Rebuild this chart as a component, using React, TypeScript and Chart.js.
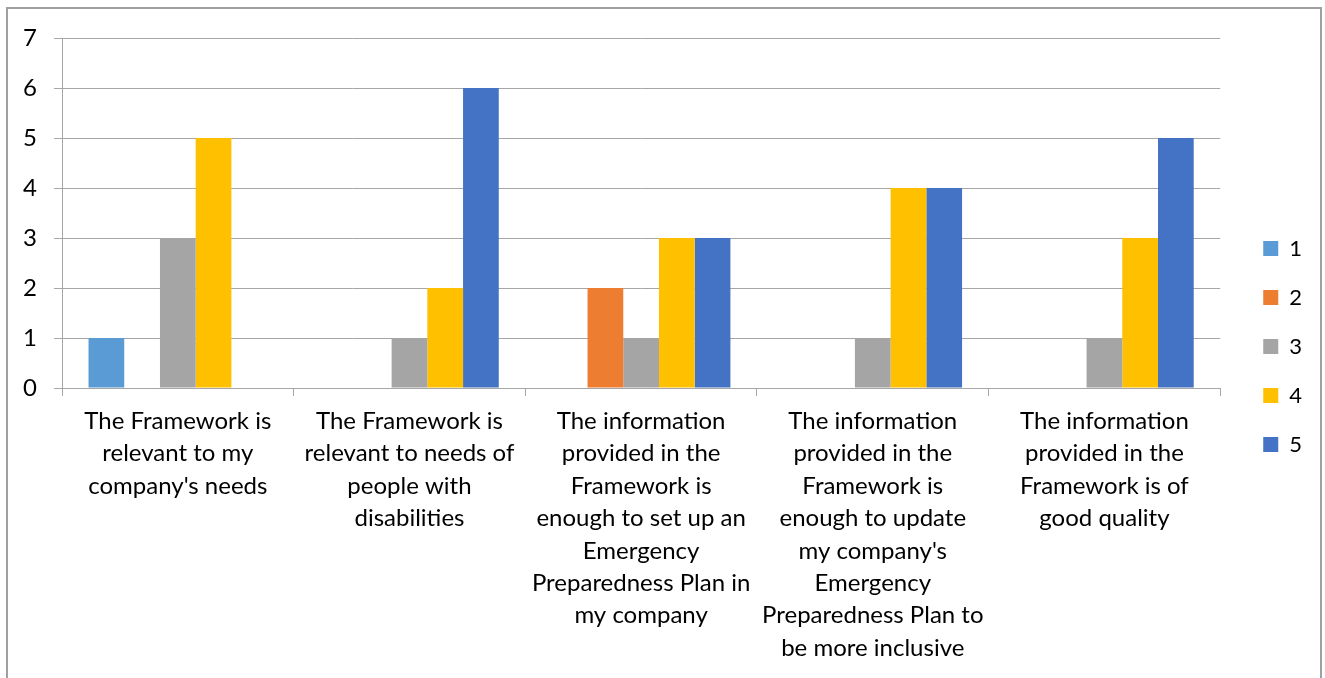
import React, { useEffect, useRef } from "react";
import { Chart, registerables } from "chart.js";

Chart.register(...registerables);

const categories: string[][] = [
  ["The Framework is", "relevant to my", "company's needs"],
  ["The Framework is", "relevant to needs of", "people with", "disabilities"],
  ["The information", "provided in the", "Framework is", "enough to set up an", "Emergency", "Preparedness Plan in", "my company"],
  ["The information", "provided in the", "Framework is", "enough to update", "my company's", "Emergency", "Preparedness Plan to", "be more inclusive"],
  ["The information", "provided in the", "Framework is of", "good quality"],
];

const seriesNames = ["1", "2", "3", "4", "5"];
const series1 = [1, 0, 0, 0, 0];
const series2 = [0, 0, 2, 0, 0];
const series3 = [3, 1, 1, 1, 1];
const series4 = [5, 2, 3, 4, 3];
const series5 = [0, 6, 3, 4, 5];
const seriesValues = [series1, series2, series3, series4, series5];
const seriesColors = ["#5B9BD5", "#ED7D31", "#A5A5A5", "#FFC000", "#4472C4"];

const yMin = 0;
const yMax = 7;
const yStep = 1;

const FONT = "Lato";
const GRID = "#a6a6a6";

export default function App() {
  const canvasRef = useRef<HTMLCanvasElement | null>(null);

  useEffect(() => {
    const canvas = canvasRef.current;
    if (!canvas) return;
    const chart = new Chart(canvas, {
      type: "bar",
      data: {
        labels: categories,
        datasets: seriesNames.map((name, i) => ({
          label: name,
          data: seriesValues[i],
          backgroundColor: seriesColors[i],
          borderWidth: 0,
          barPercentage: 1,
          categoryPercentage: 0.771,
        })),
      },
      options: {
        responsive: false,
        animation: false,
        layout: { padding: { top: 15, bottom: 0, left: 0, right: 13 } },
        plugins: {
          tooltip: { enabled: false },
          title: {
            display: true,
            text: " ",
            font: { family: FONT, size: 10, lineHeight: 1.1 },
            padding: { top: 0, bottom: 12 },
          },
          legend: {
            display: true,
            position: "right",
            align: "center",
            labels: {
              boxWidth: 15,
              boxHeight: 15,
              padding: 27,
              color: "#000",
              font: { family: FONT, size: 22 },
            },
          },
        },
        scales: {
          x: {
            offset: true,
            grid: {
              offset: true,
              drawOnChartArea: false,
              drawTicks: true,
              tickLength: 8,
              color: GRID,
              lineWidth: 1,
            },
            border: { display: true, color: GRID, width: 1 },
            ticks: {
              color: "#000",
              font: { family: FONT, size: 24, lineHeight: 1.35 },
              padding: 9,
              maxRotation: 0,
              minRotation: 0,
              autoSkip: false,
            },
            afterFit: (s: any) => {
              s.height = 290;
            },
          },
          y: {
            min: yMin,
            max: yMax,
            grid: {
              color: GRID,
              lineWidth: 1,
              drawTicks: true,
              tickLength: 8,
            },
            border: { display: true, color: GRID, width: 1 },
            ticks: {
              stepSize: yStep,
              color: "#000",
              font: { family: FONT, size: 24 },
              padding: 17,
            },
            afterFit: (s: any) => {
              s.width = 62;
            },
          },
          spacer: {
            type: "linear",
            position: "right",
            display: true,
            grid: { display: false, drawTicks: false },
            border: { display: false },
            ticks: { display: false },
            afterFit: (s: any) => {
              s.width = 16;
            },
          },
        },
      } as any,
    });
    return () => chart.destroy();
  }, []);

  return (
    <div
      style={{
        position: "absolute",
        left: 0,
        top: 0,
        width: 1325,
        height: 678,
        overflow: "hidden",
        background: "#fff",
      }}
    >
      <canvas
        ref={canvasRef}
        width={1325}
        height={678}
        style={{ position: "absolute", left: 0, top: 0, width: 1325, height: 678 }}
      />
      <div
        style={{
          position: "absolute",
          left: 6,
          top: 7,
          width: 1316,
          height: 700,
          border: "2px solid #a0a0a0",
          boxSizing: "border-box",
          pointerEvents: "none",
        }}
      />
    </div>
  );
}
